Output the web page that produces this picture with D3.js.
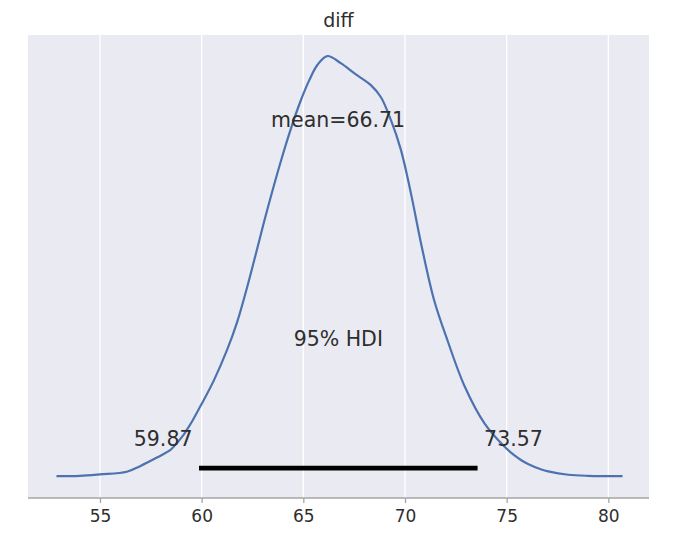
<!DOCTYPE html>
<html>
<head>
<meta charset="utf-8">
<script src="https://cdn.jsdelivr.net/npm/d3@7/dist/d3.min.js"></script>
<style>
  html, body { margin: 0; padding: 0; background: #ffffff; }
  svg text { font-family: "DejaVu Sans", sans-serif; fill: #2e2e2e; }
</style>
</head>
<body>
<svg id="chart" width="675" height="537"></svg>
<script>
// ---- data ----
const title = "diff";
const kdeX = [52.86, 54.01, 55.00, 56.32, 56.97, 57.80, 58.45, 58.62, 59.11, 59.28, 59.57, 59.93,
              60.59, 61.25, 61.74, 62.24, 62.60, 63.22, 63.88, 64.37, 64.87, 65.30, 65.69, 66.18,
              66.84, 67.50, 68.32, 68.81, 69.31, 69.80, 70.29, 70.79, 71.43, 72.10, 72.92, 73.91,
              74.90, 75.40, 75.72, 76.05, 76.71, 77.04, 78.03, 79.00, 80.70];
const kdeY = [0.0002, 0.0003, 0.0007, 0.0014, 0.0029, 0.0052, 0.0072, 0.0081, 0.0113, 0.0127, 0.0153, 0.0189,
              0.0258, 0.0341, 0.0415, 0.0510, 0.0585, 0.0716, 0.0845, 0.0932, 0.1010, 0.1066, 0.1106, 0.1130,
              0.1111, 0.1084, 0.1052, 0.1020, 0.0958, 0.0878, 0.0762, 0.0627, 0.0475, 0.0365, 0.0245, 0.0144,
              0.0081, 0.0057, 0.0045, 0.0035, 0.0020, 0.0015, 0.0006, 0.0003, 0.0002];
const meanValue = 66.71;
const hdiLow = 59.87;
const hdiHigh = 73.57;
const hdiProb = 95;
const xTicks = [55, 60, 65, 70, 75, 80];

// ---- layout ----
const svg = d3.select("#chart");
const plot = { left: 28, right: 649, top: 35, bottom: 498 };

const x = d3.scaleLinear().domain([51.46, 82.0]).range([plot.left, plot.right]);
const yMax = d3.max(kdeY);
const y = d3.scaleLinear().domain([-0.05 * yMax, 1.05 * yMax]).range([plot.bottom, plot.top]);
const H = 1.04 * yMax;

// background
svg.append("rect")
  .attr("x", plot.left).attr("y", plot.top)
  .attr("width", plot.right - plot.left).attr("height", plot.bottom - plot.top)
  .attr("fill", "#eaeaf2");

// vertical grid lines
svg.append("g").selectAll("line").data(xTicks).join("line")
  .attr("x1", d => x(d)).attr("x2", d => x(d))
  .attr("y1", plot.top).attr("y2", plot.bottom)
  .attr("stroke", "#ffffff").attr("stroke-width", 1.3);

// x axis
const axis = d3.axisBottom(x).tickValues(xTicks).tickSize(5).tickPadding(7).tickFormat(d3.format("d"));
const gx = svg.append("g").attr("transform", `translate(0,${plot.bottom})`).call(axis);
gx.select(".domain").remove();
gx.selectAll(".tick line").attr("stroke", "#a6a6a6").attr("stroke-width", 1.3);
gx.selectAll(".tick text").attr("font-size", 17).attr("fill", "#2e2e2e")
  .style("font-family", "'DejaVu Sans', sans-serif");
svg.append("line")
  .attr("x1", plot.left).attr("x2", plot.right)
  .attr("y1", plot.bottom).attr("y2", plot.bottom)
  .attr("stroke", "#a6a6a6").attr("stroke-width", 1.5);

// KDE curve
const pts = kdeX.map((v, i) => [v, kdeY[i]]);
const line = d3.line().x(d => x(d[0])).y(d => y(d[1])).curve(d3.curveCatmullRom.alpha(0.5));
svg.append("path").datum(pts)
  .attr("d", line)
  .attr("fill", "none")
  .attr("stroke", "#4c72b0")
  .attr("stroke-width", 2.2)
  .attr("stroke-linejoin", "round");

// HDI bar
svg.append("line")
  .attr("x1", x(hdiLow)).attr("x2", x(hdiHigh))
  .attr("y1", y(H * 0.02)).attr("y2", y(H * 0.02))
  .attr("stroke", "#000000").attr("stroke-width", 4.8);

// texts
const fs = 20.5;
svg.append("text")
  .attr("x", x(hdiLow)).attr("y", y(H * 0.07))
  .attr("text-anchor", "end").attr("font-size", fs)
  .style("white-space", "pre")
  .text(hdiLow.toFixed(2) + " ");
svg.append("text")
  .attr("x", x(hdiHigh)).attr("y", y(H * 0.07))
  .attr("text-anchor", "start").attr("font-size", fs)
  .style("white-space", "pre")
  .text(" " + hdiHigh.toFixed(2));
svg.append("text")
  .attr("x", x((hdiLow + hdiHigh) / 2)).attr("y", y(H * 0.3))
  .attr("text-anchor", "middle").attr("font-size", fs)
  .text(hdiProb + "% HDI");
svg.append("text")
  .attr("x", x(meanValue)).attr("y", y(H * 0.8))
  .attr("text-anchor", "middle").attr("font-size", fs)
  .text("mean=" + meanValue.toFixed(2));

// title
svg.append("text")
  .attr("x", (plot.left + plot.right) / 2).attr("y", 27)
  .attr("text-anchor", "middle").attr("font-size", 19)
  .text(title);
</script>
</body>
</html>
